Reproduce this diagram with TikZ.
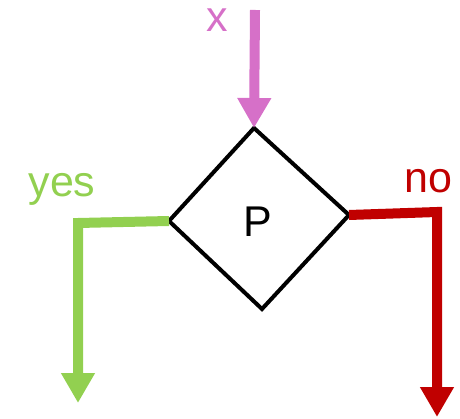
\documentclass[tikz,border=0pt]{standalone}
\usepackage{fontspec}
\setmainfont{Liberation Sans}
\usetikzlibrary{arrows.meta}
\definecolor{pinkx}{HTML}{D670C8}
\definecolor{greeny}{HTML}{92D050}
\definecolor{redn}{HTML}{C00000}
\begin{document}
\begin{tikzpicture}[x=1pt,y=-1pt,
  flow/.style={line width=10pt,-{Triangle[length=30pt,width=32pt]}},
  lbl/.style={inner sep=0pt,anchor=base,font=\fontsize{43}{48}\selectfont}]
\useasboundingbox (0,0) rectangle (460,419);
% diamond vertices
\coordinate (dt) at (254,128);
\coordinate (dl) at (169,221);
\coordinate (dr) at (349,215);
\coordinate (db) at (262,309);
\draw[line width=4pt,line join=miter] (dt) -- (dr) -- (db) -- (dl) -- cycle;
\node[lbl] (p) at (258,237) {P};
% input
\coordinate (xs) at (255,10);
\draw[flow,pinkx] (xs) -- (dt);
\node[lbl,text=pinkx] (xl) at (217,32) {x};
% yes branch
\coordinate (yc) at (78,223);
\coordinate (ye) at (78,403);
\draw[flow,greeny,line join=miter] (dl) -- (yc) -- (ye);
\node[lbl,text=greeny] (yl) at (62,197) {yes};
% no branch
\coordinate (nc) at (437,212);
\coordinate (ne) at (437,417);
\draw[flow,redn,line join=miter] (dr) -- (nc) -- (ne);
\node[lbl,text=redn] (nl) at (428,193) {no};
\end{tikzpicture}
\end{document}
